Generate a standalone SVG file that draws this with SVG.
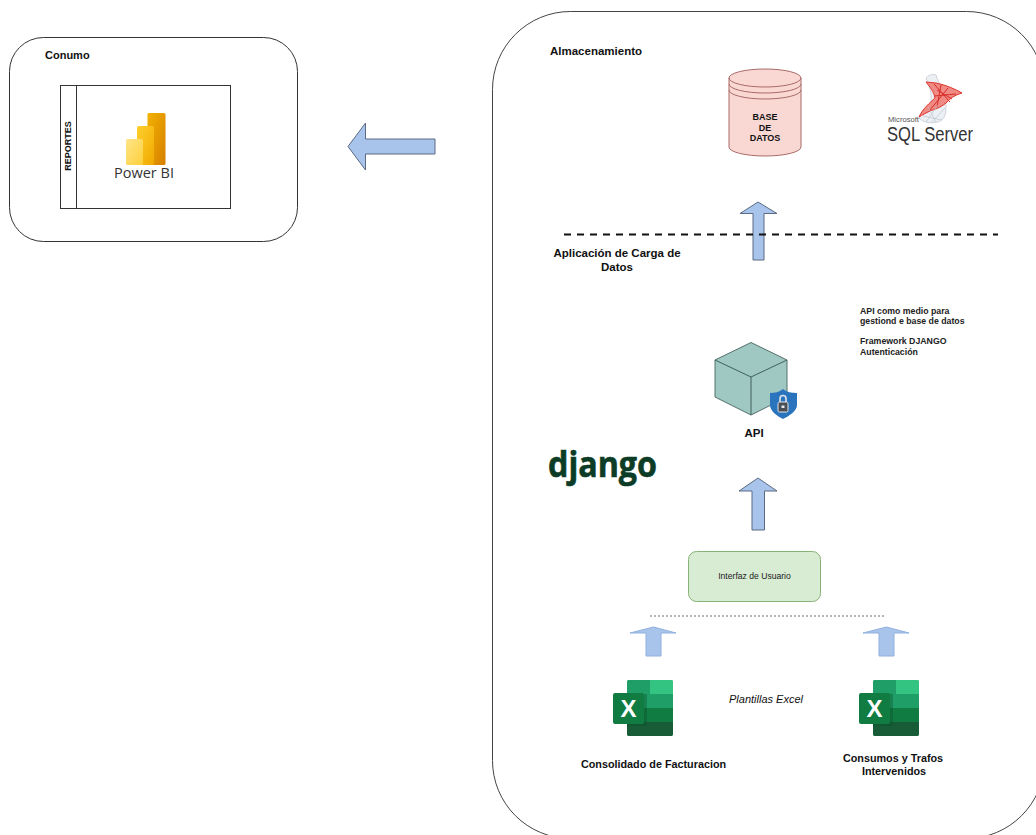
<svg xmlns="http://www.w3.org/2000/svg" width="1036" height="835" viewBox="0 0 1036 835">
<defs>
<style>
text{font-family:"Liberation Sans",Arial,sans-serif;fill:#111}
.b{font-weight:bold}
.box{fill:#fff;stroke:#333;stroke-width:1}
.arrow{fill:#a9c4eb;stroke:#5b6b85;stroke-width:1}
.arrow-light{fill:#a9c4eb;stroke:#8fb0e0;stroke-width:1}
.thin{fill:none;stroke:#a96a68;stroke-width:1}
.note{font-size:8.750px;font-weight:bold;fill:#222}
</style>
<linearGradient id="pb1" x1="0" y1="0" x2="1" y2="1"><stop offset="0" stop-color="#f2b200"/><stop offset="1" stop-color="#d67f00"/></linearGradient>
<linearGradient id="pb2" x1="0" y1="0" x2="1" y2="1"><stop offset="0" stop-color="#ffd02e"/><stop offset="1" stop-color="#f0a800"/></linearGradient>
<linearGradient id="pb3" x1="0" y1="0" x2="1" y2="1"><stop offset="0" stop-color="#ffe588"/><stop offset="1" stop-color="#fdcf3a"/></linearGradient>
<g id="excel">
<rect x="14" y="0" width="46" height="56" rx="2" fill="#21a366"/>
<path d="M37 0H58a2 2 0 0 1 2 2V14H37Z" fill="#33c481"/>
<path d="M16 0H37V14H14V2a2 2 0 0 1 2-2Z" fill="#1f9e68"/>
<rect x="37" y="14" width="23" height="14" fill="#1f9e68"/>
<rect x="14" y="14" width="23" height="14" fill="#1f9e68"/>
<rect x="14" y="28" width="46" height="14" fill="#107c41"/>
<path d="M14 42H60V54a2 2 0 0 1-2 2H16a2 2 0 0 1-2-2Z" fill="#185c37"/>
<rect x="14" y="14" width="20" height="32" fill="#0b4a2a" opacity=".35"/>
<rect x="0" y="13" width="31" height="31" rx="2" fill="#107c41"/>
<text x="15.500" y="37" text-anchor="middle" style="font-size:24px;font-weight:bold;fill:#fff">X</text>
</g>
</defs>
<rect width="1036" height="835" fill="#fff"/>

<g id="consumo">
<rect x="9.500" y="37.500" width="288" height="204" rx="34" class="box"/>
<text x="45" y="59" class="b" font-size="11">Conumo</text>
</g>
<g id="reportes">
<rect x="60.500" y="85.500" width="170" height="123" class="box"/>
<line x1="76.500" y1="85.500" x2="76.500" y2="208.500" stroke="#333"/>
<text transform="translate(71 146) rotate(-90)" text-anchor="middle" class="b" font-size="9">REPORTES</text>
</g>
<g id="powerbi">
<rect x="147.500" y="113" width="18" height="52" rx="1.500" fill="url(#pb1)"/>
<rect x="137" y="126" width="17" height="39" rx="1.500" fill="url(#pb2)"/>
<rect x="126" y="139" width="17" height="26" rx="1.500" fill="url(#pb3)"/>
<text x="144" y="178" text-anchor="middle" font-size="14.500" style="font-family:'Open Sans','Liberation Sans',sans-serif;fill:#333">Power BI</text>
</g>

<g id="almacenamiento">
<rect x="492.500" y="11.500" width="552" height="827" rx="78" class="box" style="stroke:#444"/>
<text x="550" y="55" class="b" font-size="11.500">Almacenamiento</text>
</g>

<g id="base-datos">
<path d="M729 78A36 9 0 0 1 801 78V147A36 9 0 0 1 729 147Z" fill="#f9d8d4" stroke="#a96a68"/>
<path d="M729 78A36 9 0 0 0 801 78M729 84A36 9 0 0 0 801 84M729 90A36 9 0 0 0 801 90" class="thin"/>
<text x="765" y="120" text-anchor="middle" class="b" font-size="9">BASE</text>
<text x="765" y="130.500" text-anchor="middle" class="b" font-size="9">DE</text>
<text x="765" y="140.500" text-anchor="middle" class="b" font-size="9">DATOS</text>
</g>

<g id="sqlserver">
<path d="M926 78C929 74 934 74 936 75C938 82 942 88 946 94L946 108C946 115 944 120 938 122C930 124 922 122 919 118C921 112 926 108 930 104C933 98 930 88 926 78Z" fill="#eceff3" stroke="#c6ccd3" stroke-width=".8"/>
<path d="M926 82L936 83C946 85 955 89 962 93C955 95 950 98 946 103C940 108 935 109 930 111C926 113 922 115 919 117C923 108 930 103 935 98C934 92 930 87 926 82Z" fill="#f08a84" stroke="#e0342e" stroke-width="1"/>
<path d="M934 84L950 102M941 85L937 107M948 88L930 110M934 96L956 94M937 90L952 99" fill="none" stroke="#d92c26" stroke-width="1"/>
<path d="M923 116L942 120M928 107L936 122M938 105L926 122M945 108L932 122" fill="none" stroke="#bcc4cc" stroke-width=".7"/>
<text x="888" y="121.800" font-size="7" textLength="31" lengthAdjust="spacingAndGlyphs" style="fill:#555">Microsoft</text>
<text x="887" y="141" font-size="19.500" textLength="86" lengthAdjust="spacingAndGlyphs" style="fill:#333">SQL Server</text>
</g>

<g id="etiqueta-carga">
<text x="617" y="257" text-anchor="middle" class="b" font-size="11.500">Aplicación de Carga de</text>
<text x="617" y="271" text-anchor="middle" class="b" font-size="11.500">Datos</text>
</g>

<g id="nota-api">
<text x="860" y="314" class="note">API como medio para</text>
<text x="860" y="324" class="note">gestiond e base de datos</text>
<text x="860" y="344" class="note">Framework DJANGO</text>
<text x="860" y="355" class="note">Autenticación</text>
</g>

<g id="api">
<path d="M751 342.500L787 360V397L751 415L715 397V360Z" fill="#9ec8c1" stroke="#55706c"/>
<path d="M715 360L751 377L787 360M751 377V415" fill="none" stroke="#40605c"/>
<path d="M783 389C787 392 791 393 797 393V405C797 411 789 416 783 419C777 416 770 411 770 405V393C775 393 779 392 783 389Z" fill="#2a73bd"/>
<rect x="778" y="402" width="10" height="10" rx="1.500" fill="#4a4f55" stroke="#e6e8eb"/>
<path d="M780 402V398.500A3 3 0 0 1 786 398.500V402" fill="none" stroke="#e1e4e8" stroke-width="1.600"/>
<rect x="781.500" y="405.500" width="3" height="2.500" fill="#e6e8eb"/>
<text x="754" y="437" text-anchor="middle" class="b" font-size="11.500">API</text>
</g>

<g id="django">
<text x="548" y="476.500" font-size="35" font-weight="bold" textLength="109" lengthAdjust="spacingAndGlyphs" stroke="#0c3c26" stroke-width=".6" style="font-family:'Open Sans','Noto Sans',sans-serif;fill:#0c3c26">django</text>
</g>

<g id="interfaz">
<rect x="688.500" y="551.500" width="132" height="50" rx="8" fill="#d8ecd3" stroke="#86b376"/>
<text x="754.500" y="579" text-anchor="middle" font-size="8.600" style="fill:#222">Interfaz de Usuario</text>
</g>

<g id="separador-excel">
<line x1="650" y1="616" x2="886" y2="616" stroke="#444" stroke-width=".8" stroke-dasharray="2 2"/>
</g>

<g id="excel-facturacion">
<use href="#excel" x="613" y="680"/>
<text x="653.500" y="768" text-anchor="middle" class="b" font-size="10.800">Consolidado de Facturacion</text>
</g>
<g id="excel-consumos">
<use href="#excel" x="859" y="680"/>
<text x="893" y="762" text-anchor="middle" class="b" font-size="10.800">Consumos y Trafos</text>
<text x="894" y="774.500" text-anchor="middle" class="b" font-size="10.800">Intervenidos</text>
</g>
<g id="plantillas">
<text x="766" y="703" text-anchor="middle" font-size="11" font-style="italic">Plantillas Excel</text>
</g>

<g id="connectors">
<path d="M435 139H365.500V123L348 146.500L365.500 170V154H435Z" class="arrow"/>
<path d="M753 260V213.500H740L758 202L777 213.500H764V260Z" class="arrow"/>
<path d="M752 530V491H739L758 478L777 491H764.500V530Z" class="arrow"/>
<path d="M646 656V633H630L653.500 627L676 633H661V656Z" class="arrow-light"/>
<path d="M879 656V633H863L886.500 627L909 633H894V656Z" class="arrow-light"/>
</g>
<g id="separador-carga">
<line x1="564" y1="234.500" x2="998" y2="234.500" stroke="#111" stroke-width="2" stroke-dasharray="7 6"/>
</g>
</svg>
